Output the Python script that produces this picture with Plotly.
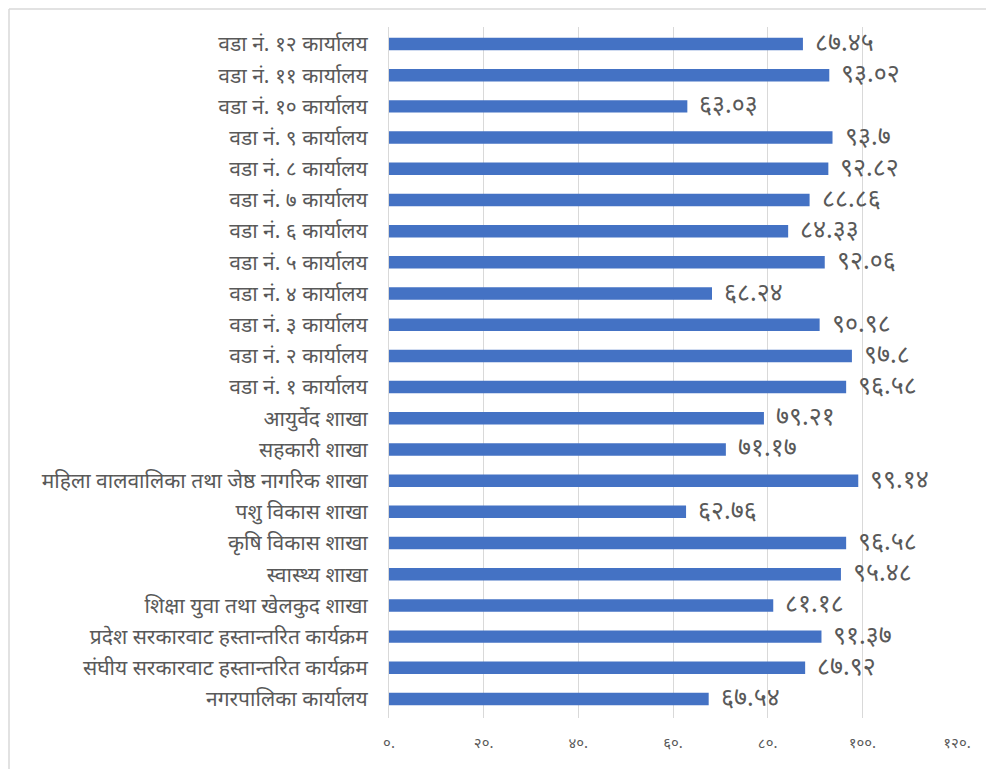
import plotly.graph_objects as go

categories = [
    "नगरपालिका कार्यालय",
    "संघीय सरकारवाट हस्तान्तरित कार्यक्रम",
    "प्रदेश सरकारवाट हस्तान्तरित कार्यक्रम",
    "शिक्षा युवा तथा खेलकुद शाखा",
    "स्वास्थ्य शाखा",
    "कृषि विकास शाखा",
    "पशु विकास शाखा",
    "महिला वालवालिका तथा जेष्ठ नागरिक शाखा",
    "सहकारी शाखा",
    "आयुर्वेद शाखा",
    "वडा नं. १ कार्यालय",
    "वडा नं. २ कार्यालय",
    "वडा नं. ३ कार्यालय",
    "वडा नं. ४ कार्यालय",
    "वडा नं. ५ कार्यालय",
    "वडा नं. ६ कार्यालय",
    "वडा नं. ७ कार्यालय",
    "वडा नं. ८ कार्यालय",
    "वडा नं. ९ कार्यालय",
    "वडा नं. १० कार्यालय",
    "वडा नं. ११ कार्यालय",
    "वडा नं. १२ कार्यालय",
]
values = [67.54, 87.92, 91.37, 81.18, 95.48, 96.58, 62.76, 99.14, 71.17, 79.21,
          96.58, 97.8, 90.98, 68.24, 92.06, 84.33, 88.86, 92.82, 93.7, 63.03, 93.02, 87.45]
tick_values = [0, 20, 40, 60, 80, 100, 120]
tick_labels = ["०.", "२०.", "४०.", "६०.", "८०.", "१००.", "१२०."]

DEV = str.maketrans("0123456789", "०१२३४५६७८९")
def to_dev(v):
    return format(v, "g").translate(DEV)

text_labels = [to_dev(v) for v in values]

FONT = "Noto Sans Devanagari, Noto Sans, sans-serif"
GRAY = "#595959"

fig = go.Figure(go.Bar(
    x=values, y=categories, orientation="h",
    marker=dict(color="#4472C4", line=dict(width=0)),
    width=0.4,
    hoverinfo="x+y",
))

for cat, val, lab in zip(categories, values, text_labels):
    fig.add_annotation(x=val, y=cat, text=lab, showarrow=False, xanchor="left",
                       xshift=10, yshift=-1,
                       font=dict(size=25, color=GRAY, family=FONT))

W, H = 986, 761
L, R, T, B = 381, 37, 19, 51
pw, ph = W - L - R, H - T - B

fig.update_layout(
    width=W, height=H,
    margin=dict(l=L, r=R, t=T, b=B),
    paper_bgcolor="white", plot_bgcolor="white",
    showlegend=False,
    font=dict(family=FONT, color=GRAY, size=15),
    xaxis=dict(range=[0, 120], tickvals=tick_values, ticktext=tick_labels,
               showgrid=True, gridcolor="#D9D9D9", gridwidth=1, zeroline=False,
               showline=False, ticks="", tickfont=dict(size=15, color=GRAY),
               ticklabelstandoff=14),
    yaxis=dict(showline=True, linecolor="#D9D9D9", linewidth=1, ticks="",
               tickfont=dict(size=21, color=GRAY), ticklabelstandoff=16,
               categoryorder="array", categoryarray=categories),
    shapes=[
        dict(type="line", xref="paper", yref="paper", x0=-(L - 1) / pw, x1=1 + R / pw,
             y0=1 + (T - 1) / ph, y1=1 + (T - 1) / ph, line=dict(color="#D9D9D9", width=1.5)),
        dict(type="line", xref="paper", yref="paper", x0=-(L - 1) / pw, x1=-(L - 1) / pw,
             y0=-B / ph, y1=1 + (T - 1) / ph, line=dict(color="#D9D9D9", width=1.5)),
    ],
)

fig.write_html("out.html")
